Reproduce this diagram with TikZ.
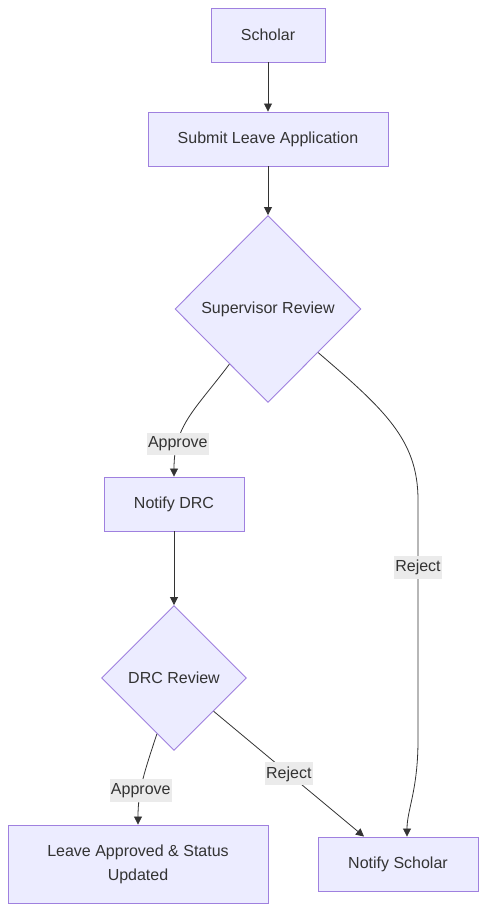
\documentclass[tikz,border=0pt]{standalone}
\usepackage{fontspec}
\setmainfont{Liberation Sans}
\usetikzlibrary{arrows.meta, shapes.geometric}
\definecolor{boxfill}{HTML}{ECECFF}
\definecolor{boxline}{HTML}{9F80DF}
\definecolor{inktext}{HTML}{333333}
\definecolor{labelfill}{HTML}{EBEBEB}

\begin{document}
\begin{tikzpicture}[
		x=1pt, y=-1pt,
		font=\fontsize{16}{24}\selectfont,
		nodestyle/.style={draw=boxline, fill=boxfill, text=inktext, line width=0.9pt, minimum height=54pt, align=center},
		decision/.style={diamond, draw=boxline, fill=boxfill, text=inktext, line width=0.9pt, inner sep=0pt},
		flow/.style={-{Triangle[length=8pt, width=8pt]}, draw=inktext, line width=0.8pt},
		linetext/.style={fill=labelfill, text=inktext, inner xsep=1pt, inner ysep=4pt}
	]
		\useasboundingbox (0, 0) rectangle (486, 911);
		\node[nodestyle, minimum width=114pt] (scholar) at (268, 35) {Scholar};
		\node[nodestyle, minimum width=240pt] (submit) at (268, 139) {Submit Leave Application};
		\node[decision, minimum width=186pt, minimum height=187pt] (supervisor) at (268, 309) {Supervisor Review};
		\node[nodestyle, minimum width=140pt] (notifydrc) at (174, 504) {Notify DRC};
		\node[decision, minimum width=145pt, minimum height=145pt] (drcreview) at (174, 678) {DRC Review};
		\node[nodestyle, minimum width=260pt, minimum height=78pt] (approved) at (138, 864) {Leave Approved \& Status\\Updated};
		\node[nodestyle, minimum width=160pt] (notifyscholar) at (398, 864) {Notify Scholar};
		
		\draw[flow] (supervisor.-125) .. controls (195, 410) and (174, 425) .. node[linetext, pos=0.75] {Approve} (notifydrc.north);
		\draw[flow] (scholar.south) -- (submit.north);
		\draw[flow] (submit.south) -- (supervisor.north);
		\draw[flow] (supervisor.-41) .. controls (385, 410) and (418, 440) .. (418, 500) -- node[linetext, pos=0.28] {Reject} (418, 740) .. controls (418, 790) and (407, 810) .. ([xshift=9pt]notifyscholar.north);
		\draw[flow] (notifydrc.south) -- (drcreview.north);
		\draw[flow] (drcreview.-107) .. controls (145, 770) and (138, 790) .. node[linetext, pos=0.63] {Approve} (approved.north);
		\draw[flow] (drcreview.-40) -- node[linetext, pos=0.5] {Reject} ([xshift=-34pt]notifyscholar.north);
	\end{tikzpicture}
\end{document}
